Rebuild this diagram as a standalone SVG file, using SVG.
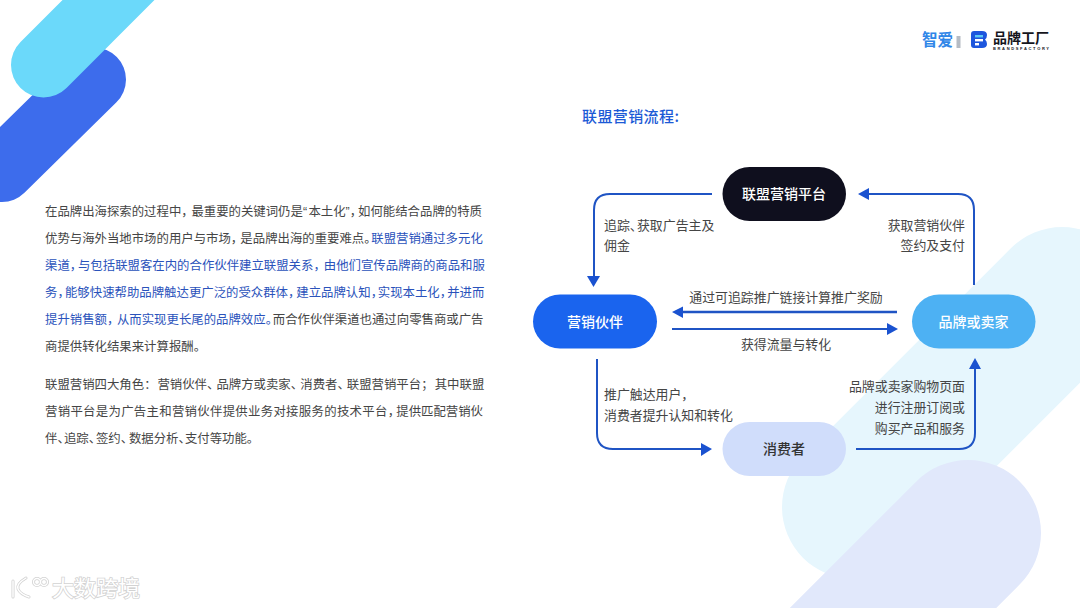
<svg xmlns="http://www.w3.org/2000/svg" width="1080" height="608" viewBox="0 0 1080 608">
<style>
text{font-family:"Noto Sans CJK SC","Noto Sans",sans-serif}
.b{font-size:12.4px;fill:#454545}
.h{fill:#2a52bb}
.q{font-family:"Liberation Sans",sans-serif}
.l{font-size:12.9px;fill:#454545}
.r{text-anchor:end}
.m{text-anchor:middle}
.n{font-size:14px;font-weight:500;text-anchor:middle}
.c{fill:none;stroke:#1f54c4;stroke-width:2}
.a{fill:#1a52d0}
.wh{fill:none;stroke:#d2d2d2;stroke-width:3;stroke-linecap:round}
.wf{fill:none;stroke:#fff;stroke-width:1.4;stroke-linecap:round}
</style>
<rect width="1080" height="608" fill="#fff"/>
<g id="background" fill="none" stroke-linecap="round">
<path d="M854 507 L1062 299" stroke="#e6f6fd" stroke-width="144"/>
<path d="M968 533 L800 701" stroke="#e1e8fb" stroke-width="146"/>
<path d="M94 79.500 L2 170" stroke="#3d6cec" stroke-width="64"/>
<path d="M43.500 65 L150 -41.500" stroke="#6bd9fa" stroke-width="65"/>
</g>
<g id="logo">
<text x="922" y="46" font-size="17" font-weight="700" fill="#2f86e8" textLength="31" lengthAdjust="spacingAndGlyphs">智爱</text>
<rect x="956.500" y="36" width="4" height="12" fill="#b5bcc4"/>
<path d="M971 34 Q971 31 974 31 H982 Q987 31 987 35 Q987 38 985 39.500 Q987 41 987 44 Q987 48 982 48 H974 Q971 48 971 45 Z" fill="#1d56dd"/>
<rect x="975" y="35" width="8" height="2.400" fill="#5cc8f5"/>
<rect x="975" y="39" width="8" height="2.400" fill="#fff"/>
<rect x="975" y="43" width="4" height="2.400" fill="#fff"/>
<text x="993" y="43" font-size="14" font-weight="700" fill="#15151c">品牌工厂</text>
<text x="993" y="50" font-size="4" font-weight="700" fill="#15151c" textLength="56" lengthAdjust="spacing" style="font-family:'Liberation Sans',sans-serif">BRANDSFACTORY</text>
</g>
<g id="watermark">
<path class="wh" d="M13 581 V597 M26 578 Q16 584 18 589 Q20 594 29 597"/>
<circle class="wh" cx="37" cy="582" r="3.500"/><circle class="wh" cx="44" cy="582" r="3.500"/>
<path class="wf" d="M13 581 V597 M26 578 Q16 584 18 589 Q20 594 29 597"/>
<circle class="wf" cx="37" cy="582" r="3.500"/><circle class="wf" cx="44" cy="582" r="3.500"/>
<text x="52" y="596" font-size="22" fill="#fff" stroke="#d2d2d2" stroke-width="1.600" paint-order="stroke">大数跨境</text>
</g>
<text id="title" x="582" y="122" font-size="15" font-weight="500" fill="#1c5ad6" letter-spacing=".4">联盟营销流程:</text>
<g id="body">
<text class="b" x="45" y="216">在品牌出海探索的过程中<tspan letter-spacing="-2.300">，</tspan>最重要的关键词仍是<tspan class="q" letter-spacing="1.400">“</tspan>本土化<tspan class="q">”</tspan><tspan letter-spacing="-4.100">，</tspan>如何能结合品牌的特质</text>
<text class="b" x="45" y="243">优势与海外当地市场的用户与市场<tspan letter-spacing="-2.900">，</tspan>是品牌出海的重要难点<tspan letter-spacing="-5.400">。</tspan><tspan class="h">联盟营销通过多元化</tspan></text>
<text class="b h" x="45" y="270">渠道<tspan letter-spacing="-4.200">，</tspan>与包括联盟客在内的合作伙伴建立联盟关系<tspan letter-spacing="-2">，</tspan>由他们宣传品牌商的商品和服</text>
<text class="b h" x="45" y="297">务<tspan letter-spacing="-4.800">，</tspan>能够快速帮助品牌触达更广泛的受众群体<tspan letter-spacing="-4.100">，</tspan>建立品牌认知<tspan letter-spacing="-5.300">，</tspan>实现本土化<tspan letter-spacing="-4.900">，</tspan>并进而</text>
<text class="b" x="45" y="324"><tspan class="h">提升销售额<tspan letter-spacing="-2.400">，</tspan>从而实现更长尾的品牌效应<tspan letter-spacing="-5.200">。</tspan></tspan>而合作伙伴渠道也通过向零售商或广告</text>
<text class="b" x="45" y="351">商提供转化结果来计算报酬。</text>
<text class="b" x="45" y="389">联盟营销四大角色<tspan letter-spacing=".9">：</tspan>营销伙伴<tspan letter-spacing="-3">、</tspan>品牌方或卖家<tspan letter-spacing="-2.800">、</tspan>消费者<tspan letter-spacing="-3.100">、</tspan>联盟营销平台<tspan letter-spacing="1.200">；</tspan>其中联盟</text>
<text class="b" x="45" y="416"><tspan letter-spacing=".3">营销平台是为广告主和营销伙伴提供业务对接服务的技术平台</tspan><tspan letter-spacing="-3.800">，</tspan>提供匹配营销伙</text>
<text class="b" x="45" y="443">伴<tspan letter-spacing="-5.800">、</tspan>追踪<tspan letter-spacing="-5.200">、</tspan>签约<tspan letter-spacing="-4.200">、</tspan>数据分析<tspan letter-spacing="-6">、</tspan>支付等功能。</text>
</g>
<g id="connectors">
<path class="c" d="M712 194 H610 Q594 194 594 210 V280"/><path class="a" d="M587 276 H600 L593.500 287Z"/>
<path class="c" d="M974 285 V210 Q974 194 958 194 H868"/><path class="a" d="M869 188 V200 L858 194Z"/>
<path class="c" d="M897 312 H682" style="stroke-width:2.300"/><path class="a" d="M683 306.500 V318 L672 312Z"/>
<path class="c" d="M672 329 H888"/><path class="a" d="M887 323 V335 L898 329Z"/>
<path class="c" d="M597 359 V433 Q597 449 613 449 H702"/><path class="a" d="M701 443 V456 L712 449Z"/>
<path class="c" d="M856 449 H959 Q975 449 975 433 V367"/><path class="a" d="M969 369 H981 L975 358Z"/>
</g>
<g id="labels">
<text class="l" x="604" y="230">追踪<tspan letter-spacing="-5.700">、</tspan>获取广告主及</text>
<text class="l" x="604" y="250">佣金</text>
<text class="l r" x="965" y="230">获取营销伙伴</text>
<text class="l r" x="965" y="250">签约及支付</text>
<text class="l m" x="786" y="302">通过可追踪推广链接计算推广奖励</text>
<text class="l m" x="786" y="349">获得流量与转化</text>
<text class="l" x="604" y="399">推广触达用户，</text>
<text class="l" x="604" y="420">消费者提升认知和转化</text>
<text class="l r" x="965" y="391">品牌或卖家购物页面</text>
<text class="l r" x="965" y="412">进行注册订阅或</text>
<text class="l r" x="965" y="433">购买产品和服务</text>
</g>
<g id="node-platform"><rect x="722.500" y="167" width="123.500" height="54" rx="27" fill="#0f0f1e"/><text class="n" x="784" y="199" fill="#fff">联盟营销平台</text></g>
<g id="node-partner"><rect x="533" y="294.500" width="124" height="54" rx="27" fill="#1a64ee"/><text class="n" x="595" y="327" fill="#fff">营销伙伴</text></g>
<g id="node-brand"><rect x="912" y="294.500" width="123.500" height="54" rx="27" fill="#4db1f3"/><text class="n" x="973.500" y="327" fill="#fff">品牌或卖家</text></g>
<g id="node-consumer"><rect x="722.500" y="422" width="123.500" height="54" rx="27" fill="#d0ddfb"/><text class="n" x="784" y="454" fill="#333">消费者</text></g>
</svg>
